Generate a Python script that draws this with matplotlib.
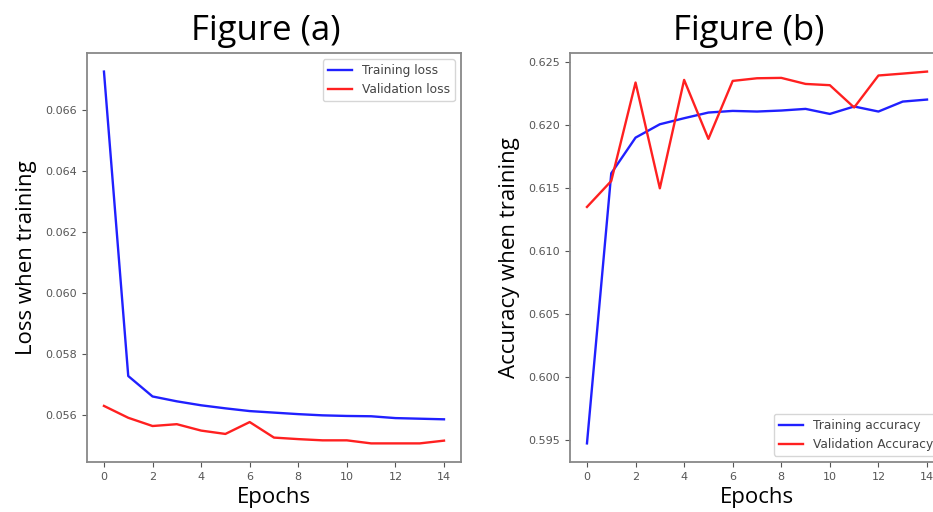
import numpy as np
import matplotlib
matplotlib.use('Agg')
import matplotlib.pyplot as plt

epochs = np.arange(15)

train_loss = [0.06727, 0.05728, 0.05661, 0.05645, 0.05632, 0.05622, 0.05613, 0.05608,
              0.05603, 0.05599, 0.05597, 0.05596, 0.05590, 0.05588, 0.05586]
val_loss = [0.05630, 0.05591, 0.05564, 0.05570, 0.05549, 0.05538, 0.05577, 0.05526,
            0.05521, 0.05517, 0.05517, 0.05507, 0.05507, 0.05507, 0.05516]

train_acc = [0.59473, 0.61616, 0.61899, 0.62005, 0.62053, 0.62098, 0.62111, 0.62106,
             0.62114, 0.62127, 0.62087, 0.62146, 0.62106, 0.62185, 0.62201]
val_acc = [0.61349, 0.61555, 0.62336, 0.61497, 0.62357, 0.61889, 0.62349, 0.62370,
           0.62373, 0.62325, 0.62315, 0.62138, 0.62392, 0.62407, 0.62423]

label_font = 'Open Sans'

fig = plt.figure(figsize=(9.33, 5.12), dpi=100)

ax1 = fig.add_axes([0.0932, 0.0977, 0.4009, 0.7988])
ax2 = fig.add_axes([0.6109, 0.0977, 0.4009, 0.7988])


def style(ax):
    for s in ax.spines.values():
        s.set_color('#888888')
        s.set_linewidth(1.3)
    ax.tick_params(labelsize=8, colors='#555555', length=3.5)
    ax.set_xticks(range(0, 15, 2))


ax1.plot(epochs, train_loss, color='#2020ff', lw=1.7, label='Training loss')
ax1.plot(epochs, val_loss, color='#ff2020', lw=1.7, label='Validation loss')
style(ax1)
ax1.set_xlabel('Epochs', fontsize=16, family=label_font, labelpad=4)
ax1.set_ylabel('Loss when training', fontsize=16, family=label_font, labelpad=6)
ax1.legend(loc='upper right', fontsize=8.8, labelcolor='#444444')

ax2.plot(epochs, train_acc, color='#2020ff', lw=1.7, label='Training accuracy')
ax2.plot(epochs, val_acc, color='#ff2020', lw=1.7, label='Validation Accuracy')
style(ax2)
ax2.set_xlabel('Epochs', fontsize=16, family=label_font, labelpad=4)
ax2.set_ylabel('Accuracy when training', fontsize=16, family=label_font, labelpad=6)
ax2.legend(loc='lower right', fontsize=8.8, labelcolor='#444444')

fig.text(266 / 933, 1 - 40 / 512, 'Figure (a)', fontsize=25, family=label_font,
         ha='center', va='baseline')
fig.text(749 / 933, 1 - 40 / 512, 'Figure (b)', fontsize=25, family=label_font,
         ha='center', va='baseline')

fig.savefig('out.png', dpi=100)
